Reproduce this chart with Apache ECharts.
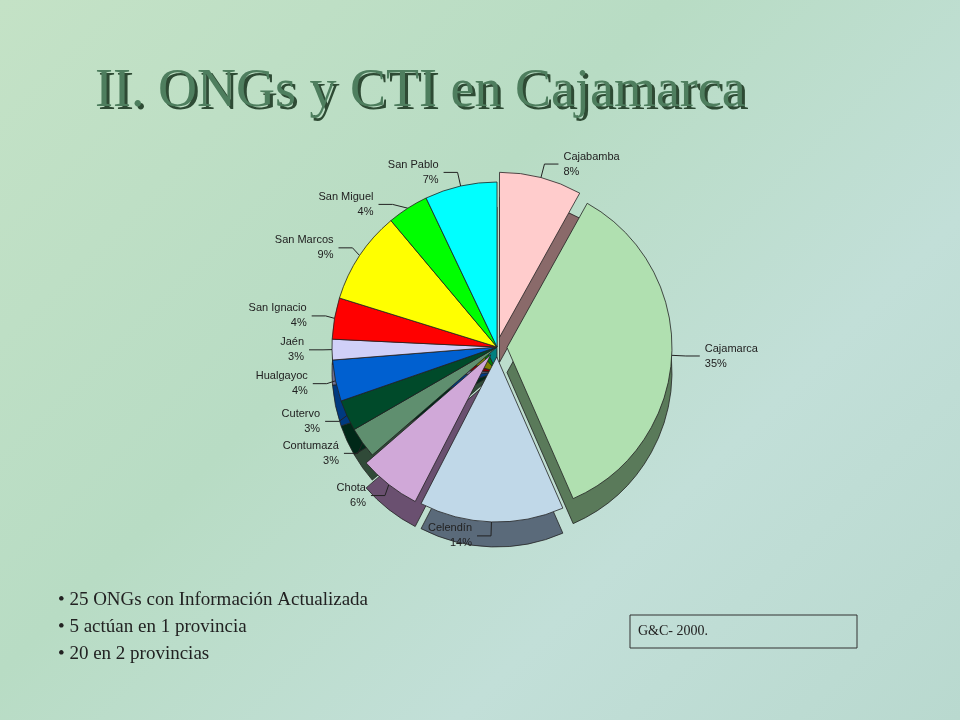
<!DOCTYPE html>
<html><head><meta charset="utf-8">
<script src="https://cdn.jsdelivr.net/npm/echarts@6/dist/echarts.min.js"></script>
<style>html,body{margin:0;padding:0;}#c{width:960px;height:720px;background:linear-gradient(135deg,#c4e2c6 0%,#b8dcc4 40%,#c2dfd8 70%,#b9d9cf 100%);}</style>
</head><body><div id="c"></div>
<script>
const categories=['Cajabamba','Cajamarca','Celendín','Chota','Contumazá','Cutervo','Hualgayoc','Jaén','San Ignacio','San Marcos','San Miguel','San Pablo'];
const values=[8,35,14,6,3,3,4,2,4,9,4,7];
const labelPct=[8,35,14,6,3,3,4,3,4,9,4,7];
const colors=['#ffcccc','#b0e0b0','#c0d8e8','#d0a8d8','#5f8f6f','#004a2a','#0060d0','#d0d0f8','#ff0000','#ffff00','#00ff00','#00ffff'];
const darks=['#8a6a6a','#5a7a5a','#5a6a7a','#6a5070','#304a38','#002818','#003a80','#707090','#800000','#808000','#008000','#008080'];
const titleText='II. ONGs y CTI en Cajamarca';
const chart=echarts.init(document.getElementById('c'));
chart.setOption({
 graphic:[
  {type:'text',left:98,top:68,z:9,style:{text:titleText,font:'54px Liberation Serif',fill:'#2e4a34'}},
  {type:'text',left:95,top:65,z:10,style:{text:titleText,font:'54px Liberation Serif',fill:'#4e7e5e'}},
  {type:'text',left:58,top:587,style:{text:'• 25 ONGs con Información Actualizada\n• 5 actúan en 1 provincia\n• 20 en 2 provincias',font:'19px Liberation Serif',fill:'#222',lineHeight:27}},
  {type:'rect',shape:{x:630,y:615,width:227,height:33},style:{fill:'transparent',stroke:'#333',lineWidth:1}},
  {type:'text',left:638,top:624,style:{text:'G&C- 2000.',font:'14px Liberation Serif',fill:'#222'}}
 ],
 series:[
  {type:'pie',z:1,center:[497,372],radius:[0,165],silent:true,selectedMode:'multiple',selectedOffset:10,
   label:{show:false},labelLine:{show:false},
   data:categories.map((n,i)=>({name:n,value:values[i],selected:i<4,itemStyle:{color:darks[i],borderColor:'#222',borderWidth:0.8}}))},
  {type:'pie',z:2,center:[497,347],radius:[0,165],selectedMode:'multiple',selectedOffset:10,
   label:{show:true,formatter:p=>p.name+'\n'+labelPct[p.dataIndex]+'%',fontFamily:'Liberation Sans',fontSize:11,color:'#222',lineHeight:15,align:'center'},
   labelLine:{show:true,length:14,length2:14,lineStyle:{color:'#222',width:1}},
   data:categories.map((n,i)=>({name:n,value:values[i],selected:i<4,itemStyle:{color:colors[i],borderColor:'#222',borderWidth:0.8}}))}
 ]
});
</script></body></html>
